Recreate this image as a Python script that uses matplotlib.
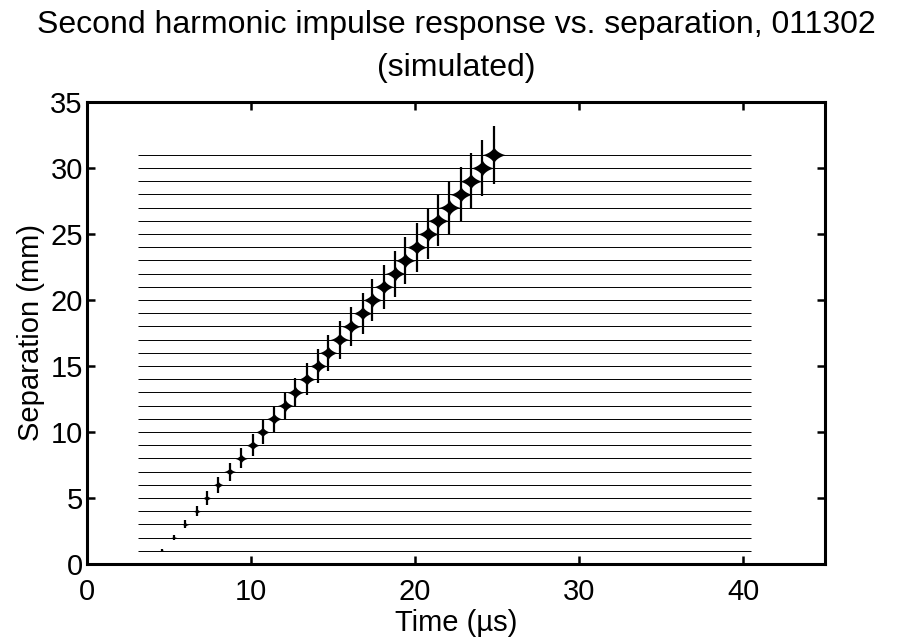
import numpy as np
import matplotlib
matplotlib.use("Agg")
import matplotlib.pyplot as plt

plt.rcParams['font.family'] = ['Liberation Sans', 'DejaVu Sans']

# separations (mm) and read-off pulse parameters
separation = np.arange(1, 32)
arrival_us = [4.6, 5.3, 6.0, 6.7, 7.3, 8.0, 8.7, 9.4, 10.1, 10.7, 11.4,
              12.1, 12.7, 13.4, 14.1, 14.7, 15.4, 16.1, 16.8, 17.4, 18.1,
              18.8, 19.4, 20.1, 20.8, 21.4, 22.1, 22.8, 23.4, 24.1, 24.8]
spike_amp = [0.12, 0.2, 0.3, 0.4, 0.5, 0.6, 0.68, 0.75, 0.82, 0.9, 0.98,
             1.05, 1.12, 1.2, 1.28, 1.36, 1.44, 1.5, 1.56, 1.62, 1.68,
             1.74, 1.8, 1.85, 1.9, 1.95, 2.0, 2.05, 2.1, 2.15, 2.2]
core_amp = [0.06, 0.1, 0.14, 0.18, 0.23, 0.28, 0.32, 0.36, 0.4, 0.43, 0.46,
            0.48, 0.5, 0.52, 0.54, 0.55, 0.56, 0.57, 0.58, 0.59, 0.6,
            0.6, 0.61, 0.61, 0.62, 0.62, 0.63, 0.63, 0.64, 0.64, 0.65]
core_width = [0.2, 0.24, 0.28, 0.31, 0.34, 0.37, 0.4, 0.43, 0.46, 0.49, 0.52,
              0.54, 0.56, 0.58, 0.6, 0.62, 0.63, 0.64, 0.65, 0.66, 0.67,
              0.68, 0.69, 0.7, 0.71, 0.72, 0.73, 0.74, 0.75, 0.76, 0.78]
t_start, t_end = 3.1, 40.5

fig = plt.figure(figsize=(8.99, 6.40), dpi=100)
ax = fig.add_axes([0.0968, 0.1188, 0.8209, 0.7219])

# baselines
ax.hlines(separation, t_start, t_end, color='black', lw=0.7)

# pulses: astroid-like star core plus narrow spike
for sep, t0, sa, ca, cw in zip(separation, arrival_us, spike_amp, core_amp, core_width):
    t = np.linspace(t0 - cw, t0 + cw, 300)
    u = np.clip(np.abs(t - t0) / cw, 0, 1)
    env = ca * (1 - u ** (2 / 3)) ** 1.5
    ax.fill_between(t, sep - env, sep + env, color='black', lw=0)
    ax.vlines(t0, sep - sa, sep + sa, color='black', lw=1.6)

ax.set_xlim(0, 45)
ax.set_ylim(0, 35)
ax.set_xticks([0, 10, 20, 30, 40])
ax.set_yticks([0, 5, 10, 15, 20, 25, 30, 35])
ax.tick_params(direction='in', length=6, width=1.8, top=True, right=True,
               labelsize=21)
ax.tick_params(axis='x', pad=10)
ax.tick_params(axis='y', pad=3)
for s in ax.spines.values():
    s.set_linewidth(2.2)

ax.set_xlabel('Time (\u00b5s)', fontsize=21, labelpad=2)
ax.set_ylabel('Separation (mm)', fontsize=21, labelpad=4)
ax.set_title('Second harmonic impulse response vs. separation, 011302\n(simulated)',
             fontsize=23, pad=19, linespacing=1.55)

fig.savefig('out.png', dpi=100)
